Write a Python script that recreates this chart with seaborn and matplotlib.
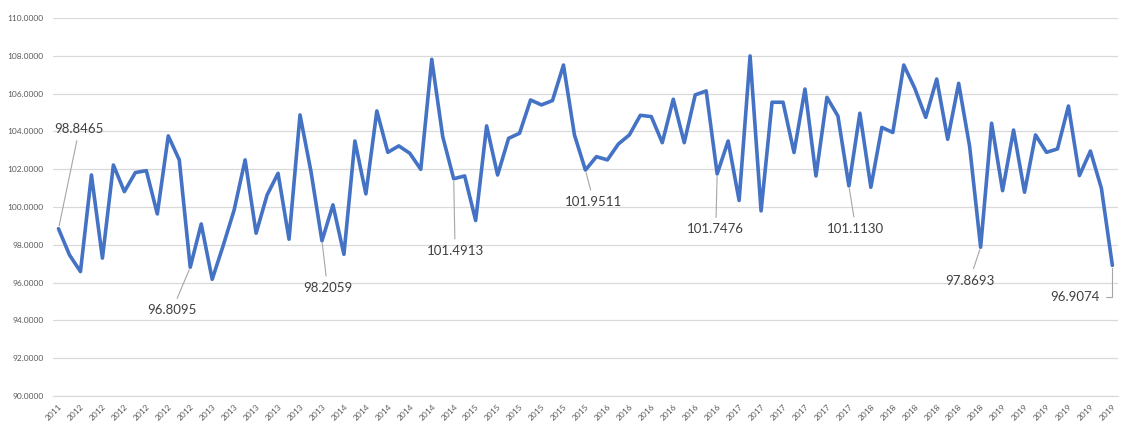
import pandas as pd
import matplotlib.pyplot as plt
import seaborn as sns

# 月度数据，2011年12月 - 2019年12月
months = pd.date_range('2011-12-01', periods=97, freq='MS')
values = [
    98.8465, 97.46, 96.58, 101.69, 97.29, 102.22, 100.81, 101.82, 101.92, 99.63,
    103.76, 102.49, 96.8095, 99.10, 96.17, 97.95, 99.84, 102.49, 98.61, 100.63,
    101.78, 98.29, 104.87, 101.87, 98.2059, 100.11, 97.49, 103.49, 100.69, 105.08,
    102.89, 103.23, 102.84, 101.99, 107.81, 103.72, 101.4913, 101.64, 99.28, 104.29,
    101.69, 103.63, 103.90, 105.66, 105.40, 105.63, 107.51, 103.81, 101.9511, 102.66,
    102.49, 103.33, 103.81, 104.85, 104.78, 103.40, 105.70, 103.40, 105.93, 106.14,
    101.7476, 103.49, 100.34, 107.99, 99.79, 105.54, 105.54, 102.88, 106.24, 101.64,
    105.80, 104.81, 101.1130, 104.96, 101.04, 104.21, 103.94, 107.51, 106.28, 104.74,
    106.77, 103.58, 106.54, 103.19, 97.8693, 104.43, 100.86, 104.07, 100.78, 103.81,
    102.89, 103.07, 105.34, 101.66, 102.96, 100.99, 96.9074,
]
tick_labels = [str(m.year) for m in months[::2]]

# 每年12月的数据标签
label_idx = list(range(0, 97, 12))
label_offsets = [(15, 72), (-13, -31), (4, -34), (1, -52), (6, -23),
                 (-1, -40), (5, -31), (-8, -24), (-27, -23)]

df = pd.DataFrame({'i': range(len(values)), 'value': values})

sns.set_style('white')
plt.rcParams['font.family'] = ['Lato', 'DejaVu Sans']

fig = plt.figure(figsize=(11.28, 4.28), dpi=100)
ax = fig.add_axes([0.047, 0.075, 0.944, 0.883])

sns.lineplot(data=df, x='i', y='value', color='#4472C4', linewidth=2.6, ax=ax)

ax.set_xlim(-0.5, len(values) - 0.5)
ax.set_ylim(90, 110)
ax.set_yticks(range(90, 111, 2))
ax.set_yticklabels([f'{v:.4f}' for v in range(90, 111, 2)], fontsize=6, color='#595959')
ax.yaxis.grid(True, color='#D9D9D9', linewidth=0.9)
ax.tick_params(axis='y', length=0, pad=7)

ax.set_xticks(range(0, len(values), 2))
ax.set_xticklabels(tick_labels, fontsize=6, color='#595959', rotation=45,
                   ha='right', va='top', rotation_mode='anchor')
ax.set_xticks([x - 0.5 for x in range(0, len(values) + 1, 2)], minor=True)
ax.tick_params(axis='x', which='major', length=0, pad=5)
ax.tick_params(axis='x', which='minor', length=4, color='#D9D9D9', width=0.9)

for s in ['top', 'right', 'left']:
    ax.spines[s].set_visible(False)
ax.spines['bottom'].set_color('#D9D9D9')
ax.set_xlabel('')
ax.set_ylabel('')

for k, (i, off) in enumerate(zip(label_idx, label_offsets)):
    conn = 'angle,angleA=0,angleB=90,rad=0' if k == len(label_idx) - 1 else 'arc3'
    ax.annotate(f'{values[i]:.4f}', xy=(i, values[i]), xytext=off,
                textcoords='offset points', ha='center', va='center',
                fontsize=9.5, color='#404040',
                arrowprops=dict(arrowstyle='-', color='#A6A6A6', lw=0.8,
                                shrinkA=2, shrinkB=2, connectionstyle=conn))

plt.savefig('out.png', dpi=100)
plt.close()
